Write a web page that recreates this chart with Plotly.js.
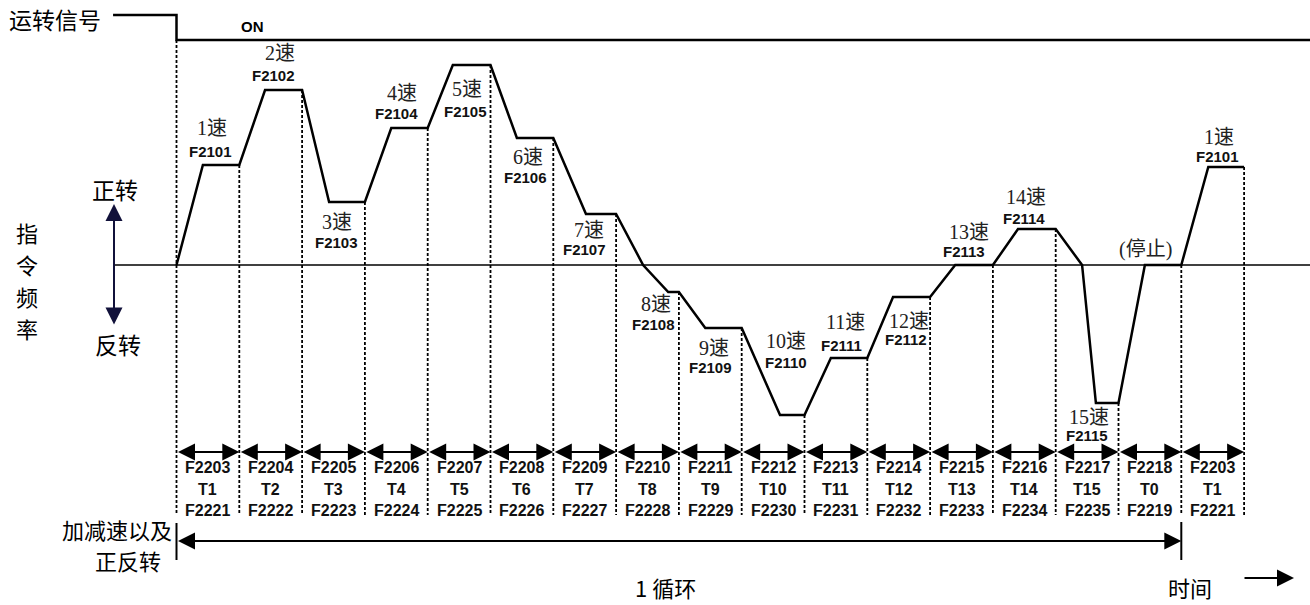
<!DOCTYPE html>
<html><head><meta charset="utf-8">
<script src="https://cdn.plot.ly/plotly-3.0.1.min.js"></script>
<style>html,body{margin:0;padding:0;background:#fff}</style>
</head><body><div id="chart" style="width:1310px;height:605px"></div>
<script>
// ---------------- data ----------------
const speedNames   = ['1速','2速','3速','4速','5速','6速','7速','8速','9速','10速','11速','12速','13速','14速','15速','(停止)','1速'];
const speedParams  = ['F2101','F2102','F2103','F2104','F2105','F2106','F2107','F2108','F2109','F2110','F2111','F2112','F2113','F2114','F2115','','F2101'];
const speedLevels  = [100,175,63,137,200,127,51,-27,-63,-150,-93,-32,0,36,-138,0,98];
const rampDurations= [0.42,0.41,0.43,0.42,0.40,0.42,0.52,0.83,0.42,0.61,0.42,0.41,0.40,0.40,0.64,0.42,0.43];
const zeroCrossings= [null,null,null,null,null,null,null,0.43,null,null,null,null,null,null,0.42,null,null];
const accelParams  = ['F2203','F2204','F2205','F2206','F2207','F2208','F2209','F2210','F2211','F2212','F2213','F2214','F2215','F2216','F2217','F2218','F2203'];
const timeNames    = ['T1','T2','T3','T4','T5','T6','T7','T8','T9','T10','T11','T12','T13','T14','T15','T0','T1'];
const decelParams  = ['F2221','F2222','F2223','F2224','F2225','F2226','F2227','F2228','F2229','F2230','F2231','F2232','F2233','F2234','F2235','F2219','F2221'];
const runSignalT   = [-1.01, 0, 0, 18.1];
const runSignalV   = [250, 250, 225, 225];
const cycleSegments = 16;

// ---------------- layout helpers ----------------
const W = 1310, H = 605;
const X0 = 176.5, DX = 62.8, Y0 = 265;
const px = v => v / W, py = v => 1 - v / H;
const segCount = speedLevels.length;

// waveform
const wt = [0], wv = [0];
for (let i = 0; i < segCount; i++) {
  if (zeroCrossings[i] !== null) { wt.push(i + zeroCrossings[i]); wv.push(0); }
  wt.push(i + rampDurations[i]); wv.push(speedLevels[i]);
  wt.push(i + 1); wv.push(speedLevels[i]);
}
// dashed boundaries
const dashBottom = Y0 - 515;
const dt = [], dv = [];
for (let i = 0; i <= segCount; i++) {
  const top = i === 0 ? runSignalV[2] : speedLevels[i - 1];
  dt.push(i, i, null); dv.push(top, dashBottom, null);
}

const traces = [
  {x: runSignalT, y: runSignalV, mode: 'lines', line: {color: '#000', width: 2.5}, hoverinfo: 'skip'},
  {x: [-1.0, 18.1], y: [0, 0], mode: 'lines', line: {color: '#000', width: 1.6}, hoverinfo: 'skip'},
  {x: dt, y: dv, mode: 'lines', line: {color: '#000', width: 1.8, dash: '3px,2px'}, hoverinfo: 'skip', connectgaps: false},
  {x: wt, y: wv, mode: 'lines', line: {color: '#000', width: 2.5}, hoverinfo: 'skip'},
  {x: [0, 0, null, cycleSegments, cycleSegments], y: [Y0-523, Y0-560, null, Y0-522, Y0-560], mode: 'lines', line: {color: '#000', width: 2}, hoverinfo: 'skip'}
];

const cjk = 'Noto Sans CJK SC, sans-serif';
const serif = 'Liberation Serif, Noto Sans CJK SC, serif';
const bold = 'Liberation Sans, Arial, sans-serif';
const ann = [];
function txt(x, y, t, font, extra) {
  ann.push(Object.assign({xref: 'paper', yref: 'paper', x: px(x), y: py(y), text: t, showarrow: false,
    xanchor: 'center', yanchor: 'middle', font: font}, extra || {}));
}
const big = {family: cjk, size: 23, color: '#000'};
const mid = {family: cjk, size: 22, color: '#000'};
txt(55, 19, '运转信号', big);
txt(252, 27, 'ON', {family: bold, size: 15, color: '#000', weight: 'bold'});
txt(115, 189, '正转', big);
txt(118, 344, '反转', big);
['指','令','频','率'].forEach((c, i) => txt(27, 232 + i * 32, c, mid));
txt(174, 529, '加减速以及', mid, {xanchor: 'right'});
txt(163, 560, '正反转', mid, {xanchor: 'right'});
txt(665, 587, '1 循环', mid);
txt(1190, 587, '时间', mid);

// speed labels
const labelPos = [[212,128,210,151],[280,53,273,76],[337,222,336,243],[402,93,396,113],[467,89,465,111],
  [528,157,525,177],[589,230,584,249],[656,304,653,324],[714,348,710,368],[786,341,786,362],
  [845,322,841,345],[909,321,906,339],[969,232,964,251],[1026,197,1024,218],[1089,417,1087,435],
  [1145,250,0,0],[1219,137,1217,156]];
const nameFont = {family: serif, size: 20, color: '#222'};
const paramFont = {family: bold, size: 15, color: '#111', weight: 'bold'};
speedNames.forEach((n, i) => {
  const p = labelPos[i];
  txt(p[0], p[1], n, nameFont);
  if (speedParams[i]) txt(p[2], p[3], speedParams[i], paramFont);
});

// bottom segment labels and arrows
const segFont = {family: bold, size: 16, color: '#111', weight: 'bold'};
const arrowV = Y0 - 452;
const head = {arrowhead: 2, startarrowhead: 2, arrowsize: 1.7, startarrowsize: 1.7, arrowwidth: 2,
  standoff: 0, startstandoff: 0};
for (let i = 0; i < segCount; i++) {
  const cx = X0 + DX * (i + 0.5);
  txt(cx, 467, accelParams[i], segFont);
  txt(cx, 489, timeNames[i], segFont);
  txt(cx, 510, decelParams[i], segFont);
  ann.push(Object.assign({xref: 'x', yref: 'y', axref: 'x', ayref: 'y', x: i + 1, y: arrowV, ax: i, ay: arrowV,
    text: '', showarrow: true, arrowside: 'end+start', arrowcolor: '#000'}, head));
}
// cycle bracket
const cycV = Y0 - 541;
ann.push(Object.assign({xref: 'x', yref: 'y', axref: 'x', ayref: 'y', x: cycleSegments, y: cycV, ax: 0, ay: cycV,
  text: '', showarrow: true, arrowside: 'end+start', arrowcolor: '#000'}, head));
// direction arrow
ann.push(Object.assign({xref: 'paper', yref: 'paper', x: px(114), y: py(204), ax: 0, ay: 122, text: '', showarrow: true,
  arrowside: 'end+start', arrowcolor: '#11113a'}, head));
// time arrow
ann.push(Object.assign({xref: 'paper', yref: 'paper', x: px(1294), y: py(578), ax: -51, ay: 0, text: '', showarrow: true,
  arrowcolor: '#000'}, head));

const layout = {
  width: W, height: H, margin: {l: 0, r: 0, t: 0, b: 0},
  paper_bgcolor: '#fff', plot_bgcolor: '#fff', showlegend: false,
  xaxis: {range: [-X0 / DX, (W - X0) / DX], visible: false, fixedrange: true},
  yaxis: {range: [Y0 - H, Y0], visible: false, fixedrange: true},
  annotations: ann
};
Plotly.newPlot('chart', traces, layout, {displayModeBar: false, staticPlot: true});
</script></body></html>
